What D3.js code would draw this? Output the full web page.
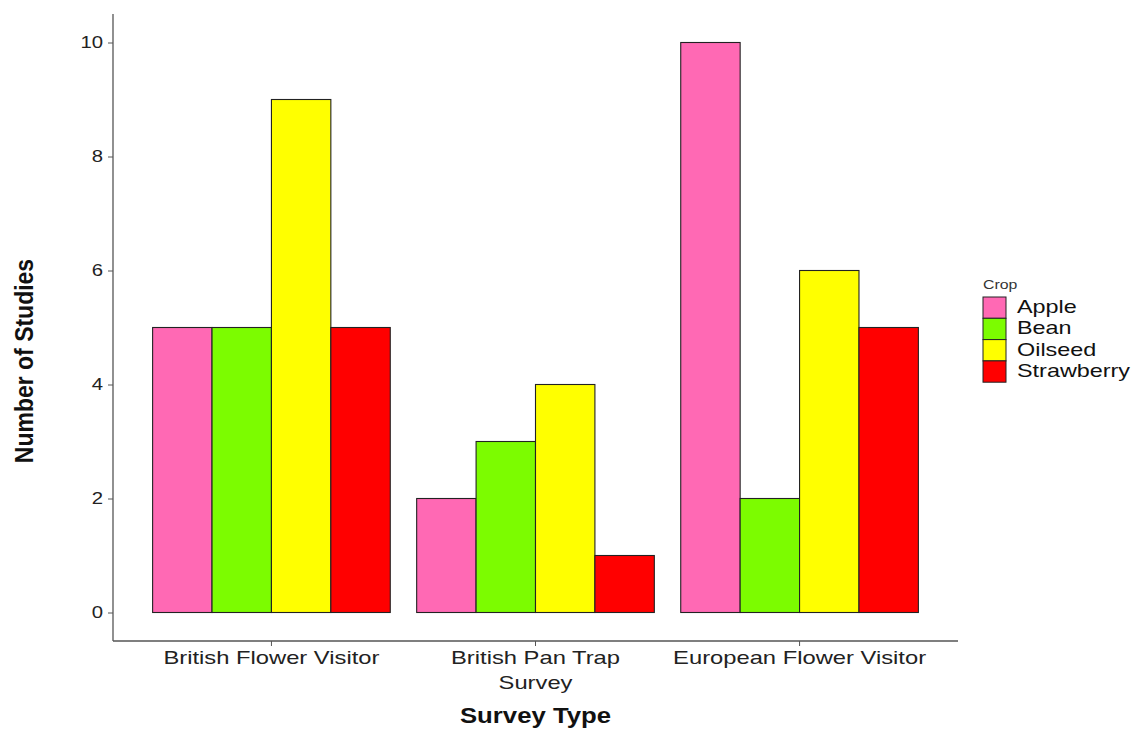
<!DOCTYPE html>
<html><head><meta charset="utf-8">
<script src="https://cdn.jsdelivr.net/npm/d3@7"></script>
<style>body{margin:0;background:#fff;} svg{font-family:"Liberation Sans",Arial,sans-serif;}</style>
</head><body><svg id="c" width="1140" height="731"></svg>
<script>
const surveys = ["British Flower Visitor", "British Pan Trap Survey", "European Flower Visitor"];
const surveyLabels = [["British Flower Visitor"], ["British Pan Trap", "Survey"], ["European Flower Visitor"]];
const crops = ["Apple", "Bean", "Oilseed", "Strawberry"];
const cropColors = ["#FF69B4", "#7CFC00", "#FFFF00", "#FF0000"];
const apple = [5, 2, 10];
const bean = [5, 3, 2];
const oilseed = [9, 4, 6];
const strawberry = [5, 1, 5];
const yTicks = [0, 2, 4, 6, 8, 10];

const seriesVals = [apple, bean, oilseed, strawberry];
const data = [];
surveys.forEach((s, i) => crops.forEach((c, j) => data.push({survey: s, crop: c, value: seriesVals[j][i]})));

const svg = d3.select("#c");
const pL = 113, pR = 958, pT = 14, pB = 641;

const x = d3.scaleBand().domain(surveys).range([pL, pR]).paddingInner(0.1).paddingOuter(0.15);
const xs = d3.scaleBand().domain(crops).range([0, x.bandwidth()]);
const y = d3.scaleLinear().domain([-0.5, 10.5]).range([pB, pT]);
const color = d3.scaleOrdinal().domain(crops).range(cropColors);

svg.append("g").selectAll("rect").data(data).join("rect")
  .attr("x", d => x(d.survey) + xs(d.crop))
  .attr("width", xs.bandwidth())
  .attr("y", d => y(d.value))
  .attr("height", d => y(0) - y(d.value))
  .attr("fill", d => color(d.crop))
  .attr("stroke", "#222").attr("stroke-width", 1.1);

// axes
const yAxis = svg.append("g").attr("transform", `translate(${pL},0)`)
  .call(d3.axisLeft(y).tickValues(yTicks).tickSize(5));
yAxis.select(".domain").attr("stroke", "#555").attr("stroke-width", 1.3).attr("d", `M0,${pT}V${pB}`);
yAxis.selectAll(".tick line").attr("stroke", "#555");
yAxis.selectAll(".tick text").attr("x", 0).attr("font-size", 16).attr("fill", "#222")
  .attr("transform", "translate(-10,0) scale(1.27,1)");

const xAxis = svg.append("g").attr("transform", `translate(0,${pB})`)
  .call(d3.axisBottom(x).tickSize(5).tickFormat(""));
xAxis.select(".domain").attr("stroke", "#555").attr("stroke-width", 1.3).attr("d", `M${pL},0H${pR}`);
xAxis.selectAll(".tick line").attr("stroke", "#555");
xAxis.selectAll(".tick").each(function(d, i) {
  const t = d3.select(this).append("text").attr("fill", "#222").attr("font-size", 19)
    .attr("text-anchor", "middle").attr("transform", "scale(1.25,1)");
  surveyLabels[i].forEach((ln, k) => t.append("tspan").attr("x", 0).attr("y", 23 + k * 25).text(ln));
});

// titles
svg.append("text").attr("transform", `translate(${(pL + pR) / 2},723) scale(1.17,1)`).attr("text-anchor", "middle")
  .attr("font-size", 22).attr("font-weight", "bold").attr("fill", "#111").text("Survey Type");
svg.append("text").attr("transform", `translate(33,361) rotate(-90) scale(1,1.1)`).attr("text-anchor", "middle")
  .attr("font-size", 23).attr("font-weight", "bold").attr("fill", "#111").text("Number of Studies");

// legend
const lg = svg.append("g").attr("transform", "translate(983,289)");
lg.append("text").attr("transform", "scale(1.22,1)").attr("font-size", 13).attr("fill", "#333").text("Crop");
const items = lg.selectAll("g.it").data(crops).join("g").attr("class", "it")
  .attr("transform", (d, i) => `translate(0,${8 + i * 21.3})`);
items.append("rect").attr("width", 23).attr("height", 21.3).attr("fill", d => color(d)).attr("stroke", "#222").attr("stroke-width", 1);
items.append("text").attr("transform", "translate(34,16) scale(1.3,1)").attr("font-size", 18).attr("fill", "#111").text(d => d);
</script></body></html>
